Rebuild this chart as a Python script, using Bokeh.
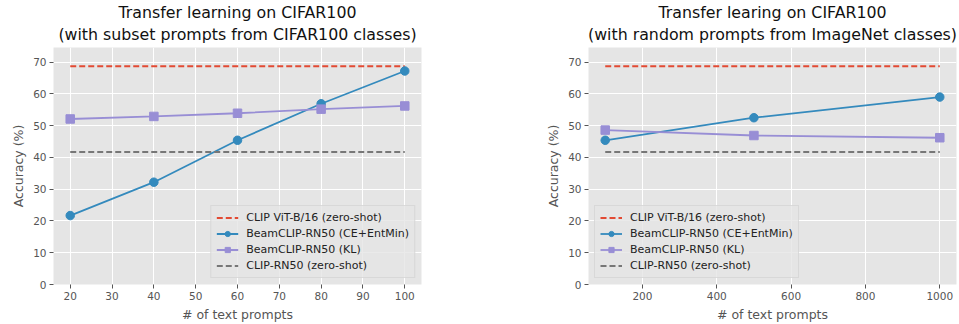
from bokeh.plotting import figure
from bokeh.layouts import row
from bokeh.models import Range1d, FixedTicker, Title
from bokeh.embed import file_html
from bokeh.resources import INLINE

# ---- data ----
left_x = [20, 40, 60, 80, 100]
left_ce = [21.7, 32.2, 45.4, 56.9, 67.2]
left_kl = [52.1, 52.9, 53.9, 55.2, 56.2]

right_x = [100, 500, 1000]
right_ce = [45.4, 52.5, 59.0]
right_kl = [48.6, 46.9, 46.2]

vit_b16 = 68.7
rn50 = 41.7

left_ticks = [20, 30, 40, 50, 60, 70, 80, 90, 100]
right_ticks = [200, 400, 600, 800, 1000]
y_ticks = [0, 10, 20, 30, 40, 50, 60, 70]

titles_left = ["Transfer learning on CIFAR100", "(with subset prompts from CIFAR100 classes)"]
titles_right = ["Transfer learing on CIFAR100", "(with random prompts from ImageNet classes)"]

labels = ["CLIP ViT-B/16 (zero-shot)", "BeamCLIP-RN50 (CE+EntMin)",
          "BeamCLIP-RN50 (KL)", "CLIP-RN50 (zero-shot)"]

RED, BLUE, PURPLE, GRAY = "#E24A33", "#348ABD", "#988ED5", "#777777"
FONT = "DejaVu Sans"


def make(xs, ce, kl, xr, xticks, titles, width, bl, br, loc):
    p = figure(width=width, height=324, output_backend="svg", toolbar_location=None,
               x_range=Range1d(*xr), y_range=Range1d(0, 74.6),
               min_border_left=bl, min_border_right=br,
               min_border_top=47, min_border_bottom=39)
    p.background_fill_color = "#E5E5E5"
    p.outline_line_color = None
    p.title.text = ""
    # lower line first (closest to the frame), then upper line
    for t, so in ((titles[1], 7), (titles[0], -4)):
        p.add_layout(Title(text=t, align="center", text_font=FONT, text_font_size="15.8px",
                           text_font_style="normal", text_color="#111111",
                           standoff=so, offset=0), "above")
    for ax in (p.xaxis[0], p.yaxis[0]):
        ax.axis_line_color = None
        ax.major_tick_line_color = "#555555"
        ax.major_tick_out = 4
        ax.major_tick_in = 0
        ax.minor_tick_line_color = None
        ax.major_label_text_font = FONT
        ax.major_label_text_font_size = "10.5px"
        ax.major_label_text_color = "#555555"
        ax.axis_label_text_font = FONT
        ax.axis_label_text_font_size = "12.5px"
        ax.axis_label_text_font_style = "normal"
        ax.axis_label_text_color = "#555555"
        ax.major_label_standoff = 3
        ax.axis_label_standoff = 4
    p.xaxis.ticker = FixedTicker(ticks=xticks)
    p.yaxis.ticker = FixedTicker(ticks=y_ticks)
    p.xaxis.axis_label = "# of text prompts"
    p.yaxis.axis_label = "Accuracy (%)"
    p.grid.grid_line_color = "white"
    p.grid.grid_line_width = 1

    x0, x1 = xs[0], xs[-1]
    p.line([x0, x1], [vit_b16, vit_b16], color=RED, line_width=1.8, line_dash="6 3",
           legend_label=labels[0])
    p.line(xs, ce, color=BLUE, line_width=1.8, legend_label=labels[1])
    p.scatter(xs, ce, marker="circle", size=8.5, color=BLUE, legend_label=labels[1])
    p.line(xs, kl, color=PURPLE, line_width=1.8, legend_label=labels[2])
    p.scatter(xs, kl, marker="square", size=8.5, color=PURPLE, legend_label=labels[2])
    p.line([x0, x1], [rn50, rn50], color=GRAY, line_width=1.8, line_dash="6 3",
           legend_label=labels[3])

    lg = p.legend[0]
    lg.location = loc
    lg.margin = 6
    lg.padding = 5
    lg.spacing = 3
    lg.glyph_width = 22
    lg.glyph_height = 13
    lg.label_height = 13
    lg.label_standoff = 8
    lg.label_text_font = FONT
    lg.label_text_font_size = "11px"
    lg.label_text_color = "#222222"
    lg.background_fill_color = "#E5E5E5"
    lg.background_fill_alpha = 0.8
    lg.border_line_color = "#CCCCCC"
    lg.border_line_width = 1
    return p


p1 = make(left_x, left_ce, left_kl, (16, 104), left_ticks, titles_left,
          530, 53, 109, "bottom_right")
p2 = make(right_x, right_ce, right_kl, (55, 1045), right_ticks, titles_right,
          429, 58, 3, "bottom_left")

layout = row(p1, p2)
open("out.html", "w").write(file_html(layout, INLINE))
